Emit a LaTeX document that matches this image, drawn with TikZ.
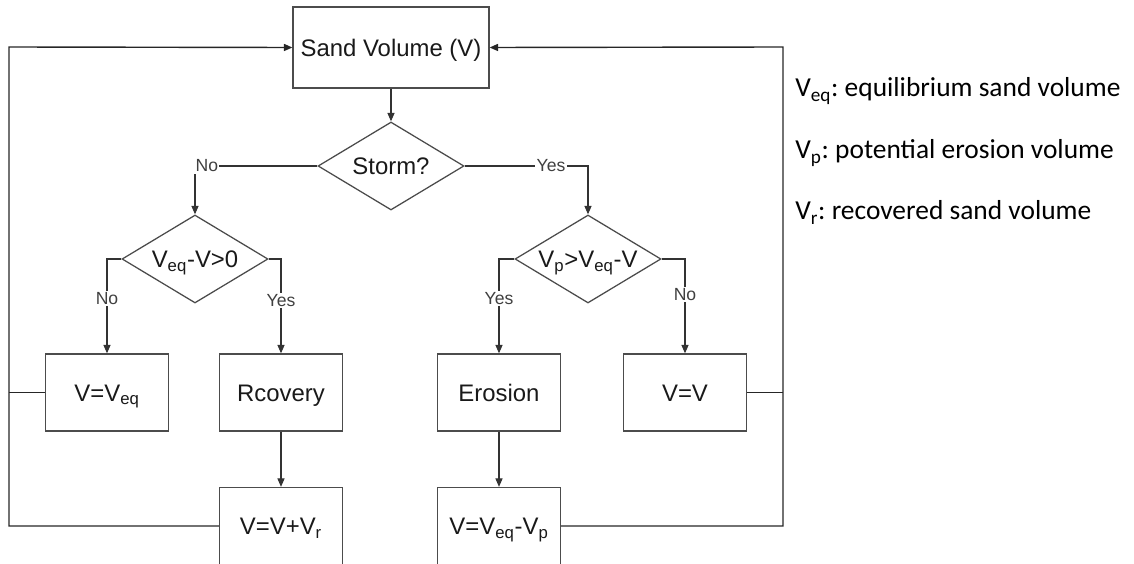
\documentclass[tikz,border=0pt]{standalone}
\usepackage{fontspec}
\setmainfont{Liberation Sans}
\newfontfamily\legendfont{Carlito}
\usetikzlibrary{arrows.meta,shapes.geometric}
\frenchspacing

\begin{document}
\begin{tikzpicture}[x=0.025cm, y=-0.025cm, >={Triangle[length=6pt,width=5pt]},
		proc/.style={draw=black!70, line width=0.9pt, minimum width=123*0.025cm, minimum height=77*0.025cm, inner sep=0pt, text height=12.2pt, text depth=0pt, text=black!90, font=\fontsize{17}{20}\selectfont},
		decide/.style={diamond, draw=black!70, line width=0.9pt, minimum width=146*0.025cm, minimum height=88*0.025cm, inner sep=0pt, aspect=1.66, text height=12.2pt, text depth=0pt, text=black!90, font=\fontsize{17}{20}\selectfont},
		lbl/.style={fill=white, inner sep=1pt, text=black!75, font=\fontsize{12.5}{14}\selectfont},
		flow/.style={->, draw=black!80, line width=0.8pt},
		back/.style={draw=black!85, line width=1pt},
		legend/.style={anchor=base west, inner sep=0pt, font=\legendfont\fontsize{19.5}{22}\selectfont}]
		\useasboundingbox (0,0) rectangle (1134,564);

		% Start and first test
		\node[proc, minimum width=196*0.025cm, minimum height=81*0.025cm] (vol) at (391,47.5) {Sand Volume (V)};
		\node[decide] (storm) at (391,166) {Storm?};

		% Second tests
		\node[decide] (chkrec) at (195,259) {V\textsubscript{eq}-V>0};
		\node[decide] (chkero) at (588,259) {V\textsubscript{p}>V\textsubscript{eq}-V};

		% Upper row of boxes
		\node[proc] (seteq) at (107,392.5) {V=V\textsubscript{eq}};
		\node[proc] (recov) at (281,392.5) {Rcovery};
		\node[proc] (eros) at (499,392.5) {Erosion};
		\node[proc] (keep) at (685,392.5) {V=V};

		% Lower row of boxes
		\node[proc] (addrec) at (281,526) {V=V+V\textsubscript{r}};
		\node[proc] (suberos) at (499,526) {V=V\textsubscript{eq}-V\textsubscript{p}};

		% Forward connectors
		\draw[flow] (vol) -- (storm);
		\draw[flow] (storm.west) -| node[lbl, pos=0.5, anchor=west, xshift=-1pt] {No} (chkrec.north);
		\draw[flow] (storm.east) -| node[lbl, pos=0.35] {Yes} (chkero.north);
		\draw[flow] (chkrec.west) -| node[lbl, pos=0.71] {No} (seteq.north);
		\draw[flow] (chkrec.east) -| node[lbl, pos=0.72] {Yes} (recov.north);
		\draw[flow] (chkero.west) -| node[lbl, pos=0.71] {Yes} (eros.north);
		\draw[flow] (chkero.east) -| node[lbl, pos=0.69] {No} (keep.north);
		\draw[flow] (recov) -- (addrec);
		\draw[flow] (eros) -- (suberos);

		% Feedback loops
		\coordinate (loopL) at (9,47);
		\coordinate (loopR) at (783,47);
		\draw[back, ->] (addrec.west) -| (loopL) -- (vol.west);
		\draw[back] (seteq.west) -- (seteq.west -| loopL);
		\draw[back, ->] (suberos.east) -| (loopR) -- (vol.east);
		\draw[back] (keep.east) -- (keep.east -| loopR);

		% Legend
		\node[legend] (leg1) at (795,97) {V\textsubscript{eq}: equilibrium sand volume};
		\node[legend] (leg2) at (795,159) {V\textsubscript{p}: potential erosion volume};
		\node[legend] (leg3) at (795,220) {V\textsubscript{r}: recovered sand volume};
	\end{tikzpicture}
\end{document}
